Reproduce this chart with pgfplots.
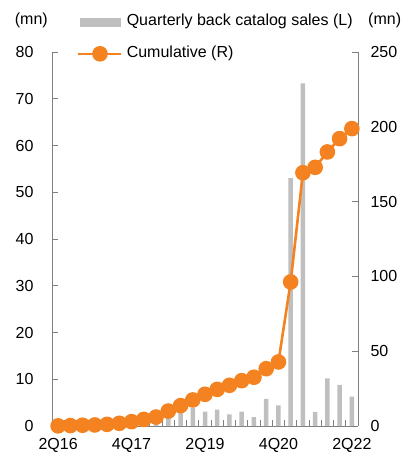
\documentclass[border=0pt]{standalone}
\usepackage{pgfplots}
\usepackage{pgfplotstable}
\pgfplotsset{compat=1.18}
\usepackage{fontspec}
\setmainfont{Liberation Sans}

\definecolor{barcol}{RGB}{191,191,191}
\definecolor{linecol}{RGB}{245,130,32}
\definecolor{axiscol}{RGB}{128,128,128}

% quarterly back catalog sales (left axis) and the running total (right axis), in millions
\pgfplotstableread{
idx sales cum
0  0.1  0.1
1  0.2  0.3
2  0.2  0.5
3  0.2  0.7
4  0.4  1.1
5  0.7  1.8
6  1.1  2.9
7  1.5  4.4
8  1.6  6.0
9  1.9  10.0
10 2.9  13.6
11 3.8  17.4
12 3.1  21.2
13 3.5  24.5
14 2.5  27.2
15 3.1  30.3
16 1.9  32.6
17 5.8  38.3
18 4.4  42.8
19 53.0 96.3
20 73.3 169.3
21 3.0  172.9
22 10.2 183.2
23 8.8  192.1
24 6.3  198.8
}\salesdata

\newcommand{\lbl}{\fontsize{16}{19}\selectfont}

\pgfplotsset{
  common/.style={
    scale only axis, width=306pt, height=374pt,
    at={(0pt,0pt)}, anchor=south west,
    xmin=-0.5, xmax=24.5,
    tick align=inside,
    major tick length=6pt,
    axis line style={axiscol, line width=0.9pt},
    every tick/.style={axiscol, line width=0.9pt},
    tick label style={font=\lbl, text=black},
    /pgf/number format/assume math mode=true,
    clip=false,
  },
  barlegend/.style={legend image code/.code={\fill[barcol] (2pt,-4pt) rectangle (42pt,4pt);}},
  linelegend/.style={legend image code/.code={\draw[##1, mark repeat=2, mark phase=2] plot coordinates {(0pt,0pt) (21.5pt,0pt) (43pt,0pt)};}},
}

\begin{document}
\begin{tikzpicture}
\useasboundingbox (-52pt,-37pt) rectangle (350pt,426pt);

% left axis: quarterly sales as bars
\begin{axis}[common,
  axis y line*=left, axis x line*=bottom,
  ymin=0, ymax=80, ytick={0,10,...,80},
  yticklabel style={anchor=east, xshift=-15pt},
  xtick={0.5,1.5,...,23.5}, xticklabels={},
  extra x ticks={0,6,12,18,24},
  extra x tick labels={2Q16,4Q17,2Q19,4Q20,2Q22},
  extra x tick style={major tick length=0pt, xticklabel style={yshift=-9pt}},
]
\addplot[ybar, bar width=4.5pt, fill=barcol, draw=none] table[x=idx, y=sales] {\salesdata};
\node[anchor=east, inner sep=0pt, font=\lbl] at ([xshift=-4pt, yshift=32pt]rel axis cs:0,1) {(mn)};
\end{axis}

% right axis: cumulative line with markers, and the legend
\begin{axis}[common,
  axis y line*=right, axis x line=none,
  ymin=0, ymax=250, ytick={0,50,...,250},
  yticklabel style={anchor=west, xshift=9pt},
  legend style={
    at={(rel axis cs:0.0817,1.104)}, anchor=north west,
    draw=none, fill=none, inner sep=0pt,
    font=\lbl, row sep=15pt, column sep=3pt,
    nodes={inner sep=1pt, text height=11.5pt, text depth=3.5pt},
  },
  legend cell align=left,
]
\addlegendimage{barlegend}
\addlegendentry{Quarterly back catalog sales (L)}
\addplot[linecol, line width=2.6pt, mark=*, mark size=6.5pt,
  mark options={solid, fill=linecol, draw=none},
  linelegend]
  table[x=idx, y=cum] {\salesdata};
\addlegendentry{Cumulative (R)}
\node[anchor=west, inner sep=0pt, font=\lbl] at ([xshift=10pt, yshift=32pt]rel axis cs:1,1) {(mn)};
\end{axis}
\end{tikzpicture}
\end{document}
